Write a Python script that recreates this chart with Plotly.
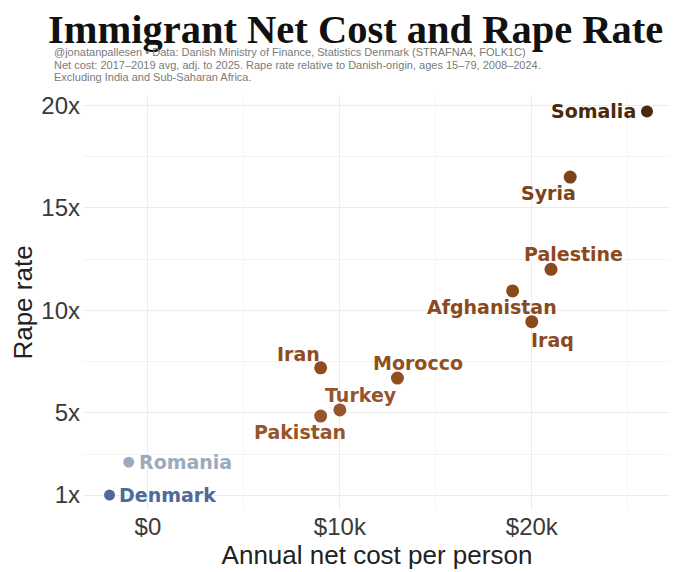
import plotly.graph_objects as go

countries = ["Denmark", "Romania", "Pakistan", "Turkey", "Iran", "Morocco",
             "Afghanistan", "Iraq", "Palestine", "Syria", "Somalia"]
net_cost = [-2000, -1000, 9000, 10000, 9000, 13000, 19000, 20000, 21000, 22000, 26000]
rape_rate = [1.0, 2.6, 4.85, 5.15, 7.2, 6.7, 10.95, 9.45, 12.0, 16.5, 19.7]

x_tick_vals = [0, 10000, 20000]
x_tick_text = ["$0", "$10k", "$20k"]
y_tick_vals = [1, 5, 10, 15, 20]
y_tick_text = ["1x", "5x", "10x", "15x", "20x"]

title_text = "Immigrant Net Cost and Rape Rate"
subtitle_lines = [
    "@jonatanpallesen • Data: Danish Ministry of Finance, Statistics Denmark (STRAFNA4, FOLK1C)",
    "Net cost: 2017–2019 avg, adj. to 2025. Rape rate relative to Danish-origin, ages 15–79, 2008–2024.",
    "Excluding India and Sub-Saharan Africa.",
]

# styling
colors = ["#4d6a99", "#9aabbd", "#96552a", "#96552a", "#8f4d1f", "#92501f",
          "#8b4a1c", "#8b4a1c", "#8b4a1c", "#7d4318", "#4b2a0c"]
sizes = [11, 11, 13, 13, 13, 13, 13, 13, 13, 13, 12]
label_pos = {
    "Denmark": ("left", 7, 0),
    "Romania": ("left", 8, 0),
    "Pakistan": ("center", -21, -16),
    "Turkey": ("center", 21, 15),
    "Iran": ("center", -22, 14),
    "Morocco": ("center", 21, 15),
    "Afghanistan": ("center", -21, -16),
    "Iraq": ("center", 21, -18),
    "Palestine": ("center", 22, 15),
    "Syria": ("center", -22, -16),
    "Somalia": ("right", -9, 0),
}

fig = go.Figure()
fig.add_trace(go.Scatter(
    x=net_cost, y=rape_rate, mode="markers",
    marker=dict(color=colors, size=sizes, opacity=1, line=dict(width=0)),
    hovertext=countries, hoverinfo="text", showlegend=False,
))

annotations = []
for c, xv, yv, col in zip(countries, net_cost, rape_rate, colors):
    anchor, dx, dy = label_pos[c]
    annotations.append(dict(
        x=xv, y=yv, xref="x", yref="y", text="<b>" + c + "</b>", showarrow=False,
        xanchor=anchor, yanchor="middle", xshift=dx, yshift=dy,
        font=dict(family="DejaVu Sans", size=19, color=col),
    ))

# page body adds an 8px offset; figure coordinates = window coordinates - 8
OFF = 8
W, H = 672, 564
L, R, T, B = 84 - OFF, 10, 95 - OFF, 62
pw, ph = W - L - R, H - T - B

for line, wy in zip(subtitle_lines, [52, 64.5, 77]):
    annotations.append(dict(
        x=(52 - OFF - L) / pw, y=(H - B - (wy - OFF)) / ph, xref="paper", yref="paper",
        text=line, showarrow=False, xanchor="left", yanchor="middle", align="left",
        font=dict(family="Liberation Sans", size=11, color="#7a7a7a"),
    ))

fig.update_layout(
    width=W, height=H,
    margin=dict(l=L, r=R, t=T, b=B),
    paper_bgcolor="white", plot_bgcolor="white",
    title=dict(text="<b>" + title_text + "</b>",
               x=(48 - OFF) / W, xanchor="left", y=1 - (29 - OFF) / H, yanchor="middle",
               font=dict(family="Liberation Serif", size=40.5, color="#111111")),
    annotations=annotations,
    xaxis=dict(
        range=[-3330, 27200], tickvals=x_tick_vals, ticktext=x_tick_text,
        showgrid=True, gridcolor="#ececec", gridwidth=1, zeroline=False,
        showline=False, ticks="", automargin=False,
        tickfont=dict(family="Liberation Sans", size=24, color="#3a3a3a"),
        minor=dict(tickvals=[5000, 15000, 25000], showgrid=True, gridcolor="#f4f4f4", gridwidth=1),
        title=dict(text="Annual net cost per person", standoff=2,
                   font=dict(family="Liberation Sans", size=26, color="#222222")),
    ),
    yaxis=dict(
        range=[0.27, 20.5], tickvals=y_tick_vals, ticktext=y_tick_text,
        showgrid=True, gridcolor="#ececec", gridwidth=1, zeroline=False,
        showline=False, ticks="", automargin=False, ticklabelstandoff=3,
        tickfont=dict(family="Liberation Sans", size=24, color="#3a3a3a"),
        minor=dict(tickvals=[3, 7.5, 12.5, 17.5], showgrid=True, gridcolor="#f4f4f4", gridwidth=1),
        title=dict(text="Rape rate", standoff=2,
                   font=dict(family="Liberation Sans", size=26, color="#222222")),
    ),
)

fig.write_html("out.html")
